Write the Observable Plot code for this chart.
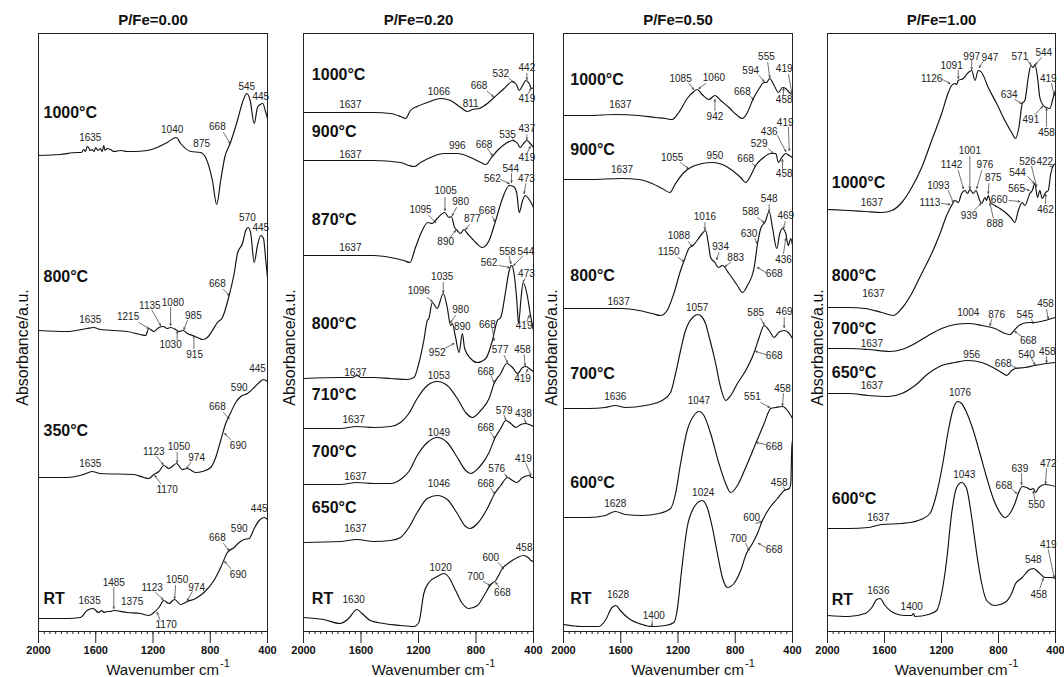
<!DOCTYPE html>
<html>
<head>
<meta charset="utf-8">
<script src="https://cdn.jsdelivr.net/npm/d3@7"></script>
<script src="https://cdn.jsdelivr.net/npm/@observablehq/plot@0.6"></script>
<style>
  html, body { margin: 0; padding: 0; background: #fff; }
  #wrap { position: relative; width: 1064px; height: 677px; overflow: hidden; background: #fff; }
  #wrap svg { position: absolute; top: 0; background: transparent !important; }
</style>
</head>
<body>
<div id="wrap"></div>
<script>
// ---------- axis ticks ----------
const majorTicks = [2000, 1600, 1200, 800, 400];
const minorTicks = d3.range(400, 2001, 40);
const titles = ["P/Fe=0.00", "P/Fe=0.20", "P/Fe=0.50", "P/Fe=1.00"];

// ---------- P/Fe = 0.00 spectra [wavenumber, absorbance (offset, a.u.)] ----------
const s000_1000 = [[2000,476],[1848,477],[1731,479],[1700,479],[1685,482],[1672,480],[1660,485],[1650,484],[1640,481],[1626,482],[1612,480],[1600,484],[1585,481],[1568,483],[1555,480],[1544,486],[1535,481],[1520,483],[1498,482],[1470,480],[1428,481],[1380,480],[1334,480],[1241,481],[1171,484],[1101,489],[1038,494],[1007,488],[937,480],[867,479],[832,474],[785,451],[755,427],[727,451],[699,474],[661,488],[610,511],[575,529],[545,538],[521,531],[493,508],[470,524],[451,527],[433,528],[412,519],[400,513]];
const s000_800 = [[2000,301],[1801,300],[1661,303],[1615,304],[1568,302],[1381,300],[1288,297],[1252,296],[1229,303],[1194,300],[1159,304],[1129,305],[1101,303],[1077,304],[1042,302],[1019,300],[989,301],[960,298],[925,296],[890,294],[855,292],[820,294],[785,301],[750,309],[715,314],[668,336],[633,358],[610,378],[575,388],[552,401],[535,404],[517,398],[493,369],[470,386],[447,396],[428,393],[412,371],[400,354]];
const s000_350 = [[2000,154],[1801,154],[1685,157],[1626,160],[1568,158],[1334,157],[1264,154],[1229,153],[1194,157],[1159,160],[1124,166],[1089,163],[1035,168],[996,162],[960,163],[902,159],[855,160],[797,164],[762,174],[727,191],[692,208],[657,219],[622,229],[587,235],[540,238],[493,244],[458,249],[428,252],[400,250]];
const s000_rt = [[2000,13],[1801,13],[1708,14],[1661,21],[1619,23],[1580,19],[1560,21],[1540,19],[1521,20],[1500,20],[1474,21],[1381,19],[1288,18],[1229,16],[1194,19],[1159,24],[1124,31],[1089,28],[1049,32],[1007,27],[960,30],[902,33],[844,39],[774,51],[727,64],[680,79],[633,84],[598,89],[563,92],[528,93],[493,103],[458,111],[423,114],[400,112]];
const t000 = [["1000°C",1965,519],["800°C",1965,355],["350°C",1965,201],["RT",1965,33]];
const l000 = [["1635",1638,494],["1040",1066,502],["875",860,488],["668",750,505],["545",545,545],["445",447,535],
["570",540,414],["445",447,404],["668",750,348],["1635",1638,312],["1215",1374,315],["1135",1222,326],["1080",1061,329],["985",918,316],["1030",1077,287],["915",909,277],
["1635",1638,168],["1123",1194,180],["1050",1019,185],["974",895,174],["1170",1101,142],["668",750,225],["690",605,186],["590",598,244],["445",470,263],
["1635",1643,31],["1485",1474,49],["1375",1346,30],["1123",1206,44],["1050",1031,52],["974",895,44],["1170",1108,7],["668",750,94],["690",605,57],["590",598,103],["445",458,123]];
const a000 = [[708,499,661,488],
[708,342,668,336],[1299,309,1229,303],[1206,321,1147,306],[1077,324,1077,306],[960,311,984,302],[1031,292,1031,300],[914,283,914,296],
[1175,175,1129,167],[1031,179,1031,169],[937,169,965,163],[1147,148,1187,156],[708,219,668,213],[657,192,699,198],
[1474,44,1474,23],[1182,39,1129,32],[1042,46,1049,33],[925,40,960,31],[1152,12,1171,19],[708,88,668,81],[657,63,699,70]];

// ---------- P/Fe = 0.20 ----------
const s020_1000 = [[2000,519],[1744,519],[1512,519],[1395,518],[1325,515],[1291,513],[1256,521],[1209,525],[1139,529],[1046,533],[977,531],[907,524],[860,520],[825,522],[779,523],[721,528],[674,534],[604,543],[546,550],[516,546],[500,541],[476,546],[453,551],[430,548],[414,543],[400,544]];
const s020_900 = [[2000,471],[1744,471],[1512,471],[1325,469],[1267,466],[1228,465],[1186,469],[1116,474],[1023,478],[930,478],[837,474],[767,469],[732,467],[697,473],[651,481],[593,488],[546,491],[511,488],[493,484],[470,488],[446,491],[423,488],[400,484]];
const s020_870 = [[2000,376],[1744,376],[1512,376],[1395,374],[1302,371],[1260,369],[1221,384],[1174,401],[1135,409],[1104,408],[1070,413],[1018,419],[988,414],[972,415],[949,404],[930,401],[907,398],[884,402],[860,398],[802,389],[756,384],[709,391],[663,411],[616,433],[569,446],[539,445],[516,438],[500,419],[476,431],[458,436],[430,432],[400,424]];
const s020_800 = [[2000,253],[1744,254],[1660,254],[1628,256],[1600,254],[1512,254],[1395,253],[1279,252],[1232,254],[1198,268],[1163,291],[1139,311],[1128,313],[1104,329],[1070,323],[1028,338],[1000,324],[977,306],[965,308],[942,294],[918,279],[895,298],[879,283],[837,273],[790,269],[732,273],[686,291],[651,311],[628,314],[593,341],[569,361],[553,366],[539,361],[516,331],[504,308],[488,331],[472,349],[446,338],[423,318],[400,301]];
const s020_710 = [[2000,203],[1744,203],[1628,205],[1512,204],[1395,205],[1325,209],[1267,218],[1209,233],[1139,246],[1070,250],[1000,246],[930,233],[872,219],[825,214],[767,221],[709,233],[674,248],[628,258],[586,268],[546,264],[511,258],[476,264],[453,265],[430,263],[400,260]];
const s020_700 = [[2000,147],[1744,147],[1628,149],[1512,148],[1395,148],[1325,152],[1267,160],[1209,176],[1139,189],[1070,194],[1000,189],[930,174],[872,161],[837,158],[779,164],[709,179],[670,193],[628,203],[593,211],[558,208],[523,204],[488,207],[453,208],[430,207],[400,205]];
const s020_650 = [[2000,89],[1744,90],[1628,92],[1512,90],[1395,91],[1325,94],[1267,104],[1209,119],[1139,133],[1070,136],[1000,132],[930,118],[872,105],[842,103],[790,108],[721,123],[670,138],[628,146],[581,154],[546,151],[516,149],[476,154],[430,156],[414,154],[400,154]];
const s020_rt = [[2000,14],[1860,12],[1744,8],[1686,13],[1628,22],[1593,18],[1535,11],[1442,8],[1325,6],[1232,5],[1198,9],[1163,38],[1128,49],[1070,55],[1023,58],[988,54],[942,41],[895,28],[849,23],[790,26],[744,36],[697,47],[663,51],[616,63],[569,69],[511,74],[470,76],[437,74],[418,71],[400,70]];
const t020 = [["1000°C",1942,557],["900°C",1942,500],["870°C",1942,412],["800°C",1942,308],["710°C",1942,237],["700°C",1942,180],["650°C",1942,124],["RT",1942,33]];
const l020 = [["1637",1674,527],["1066",1058,540],["811",837,528],["668",779,546],["532",628,558],["442",446,564],["419",446,533],
["1637",1674,477],["996",930,486],["668",744,487],["535",581,497],["437",446,503],["419",446,474],
["1637",1674,384],["1095",1186,422],["1005",1011,441],["980",907,430],["877",826,413],["890",1011,390],["668",722,421],["562",686,453],["544",558,463],["473",449,453],
["1637",1639,259],["1096",1198,341],["1035",1035,355],["980",907,322],["890",895,305],["952",1070,279],["668",721,307],["419",465,306],["562",709,369],["558",581,380],["544",453,380],["473",449,358],
["1637",1651,212],["1053",1058,256],["668",732,260],["577",632,282],["458",476,282],["419",476,253],
["1637",1639,155],["1049",1058,199],["668",732,204],["579",604,221],["438",470,218],
["1637",1639,103],["1046",1058,148],["668",732,148],["576",656,163],["419",470,173],
["1630",1651,32],["1020",1046,64],["700",802,55],["668",616,39],["600",697,74],["458",465,84]];
const a020 = [[721,540,679,535],[570,553,535,549],[446,558,446,552],[437,538,418,543],
[721,483,686,476],[546,493,530,490],[446,497,446,492],[442,479,423,485],
[1128,416,1081,409],[1016,434,1016,421],[935,424,965,416],[845,407,872,402],[981,394,942,401],[686,415,670,410],[628,452,569,448],[553,458,553,449],[453,448,465,438],
[1139,334,1104,330],[1028,349,1028,339],[942,316,977,309],[1018,283,953,288],[686,303,674,291],[446,310,430,316],[639,366,569,364],[569,375,558,368],[476,375,539,366],[458,353,472,350],
[697,256,674,249],[604,276,581,269],[465,277,458,266],[453,258,442,262],
[697,199,670,193],[604,216,593,212],[465,213,453,209],
[697,143,670,138],[604,158,586,155],[453,168,418,156],
[749,50,702,46],[639,44,663,49],[646,69,609,63]];

// ---------- P/Fe = 0.50 ----------
const s050_1000 = [[2000,516],[1825,516],[1638,517],[1474,516],[1358,514],[1288,513],[1241,512],[1194,519],[1136,533],[1089,540],[1066,542],[1031,537],[984,532],[942,536],[902,531],[844,524],[785,516],[750,513],[715,519],[680,531],[633,543],[598,549],[582,549],[559,553],[528,546],[498,539],[470,544],[447,543],[423,539],[400,537]];
const s050_900 = [[2000,452],[1825,452],[1591,453],[1474,452],[1381,448],[1311,443],[1257,439],[1217,448],[1159,459],[1112,464],[1031,468],[960,469],[890,467],[820,461],[762,454],[727,449],[692,456],[657,466],[610,473],[552,478],[517,478],[498,469],[475,474],[447,478],[423,476],[400,474]];
const s050_800 = [[2000,323],[1825,323],[1591,323],[1474,321],[1381,318],[1323,316],[1276,321],[1229,338],[1182,361],[1152,373],[1124,383],[1096,386],[1066,391],[1031,398],[1007,401],[989,389],[972,374],[942,369],[918,364],[890,366],[844,358],[785,346],[750,339],[715,346],[668,364],[644,388],[622,403],[590,410],[563,420],[540,404],[510,383],[489,398],[470,403],[447,398],[430,386],[412,393],[400,386]];
const s050_700 = [[2000,223],[1825,223],[1708,224],[1638,226],[1568,224],[1428,226],[1311,231],[1252,239],[1217,258],[1182,281],[1150,300],[1120,310],[1090,315],[1062,317],[1035,315],[1005,307],[985,296],[972,289],[937,268],[902,244],[867,231],[832,236],[785,248],[727,261],[668,279],[633,294],[598,306],[563,301],[528,294],[498,299],[458,301],[423,298],[400,293]];
const s050_600 = [[2000,114],[1825,114],[1708,116],[1638,120],[1568,117],[1451,116],[1334,118],[1252,123],[1217,138],[1182,168],[1136,201],[1089,216],[1054,220],[1019,216],[972,198],[914,168],[867,148],[832,139],[785,146],[727,164],[657,188],[598,208],[552,223],[517,224],[470,225],[435,221],[412,216],[400,213]];
const s050_rt = [[2000,7],[1872,5],[1755,5],[1708,11],[1661,24],[1633,26],[1603,21],[1544,13],[1451,7],[1381,5],[1288,6],[1229,9],[1206,21],[1175,61],[1136,104],[1089,124],[1031,131],[996,124],[960,104],[925,78],[890,54],[855,44],[809,48],[762,61],[722,78],[680,88],[645,98],[610,111],[563,123],[505,133],[458,141],[423,143],[412,148],[405,184],[400,191]];
const t050 = [["1000°C",1953,552],["900°C",1953,482],["800°C",1953,356],["700°C",1953,258],["600°C",1953,149],["RT",1953,33]];
const l050 = [["1637",1603,527],["1085",1182,553],["1060",949,554],["942",942,515],["668",750,540],["594",692,561],["555",582,575],["419",458,563],["458",458,532],
["1637",1591,462],["1055",1241,474],["950",942,476],["668",727,473],["529",633,488],["436",563,500],["419",451,509],["458",458,458],
["1637",1615,330],["1150",1264,380],["1088",1194,396],["1016",1012,415],["934",902,385],["883",797,374],["630",704,398],["588",692,420],["548",563,433],["469",447,416],["436",463,372],["668",528,358],
["1636",1638,235],["1057",1066,324],["585",657,319],["469",458,320],["668",528,276],
["1628",1638,128],["1047",1054,231],["551",680,235],["458",470,243],["668",528,185],
["1628",1619,37],["1400",1369,16],["1024",1024,139],["700",778,93],["668",528,82],["600",685,114],["458",493,149]];
const a050 = [[1124,548,1089,542],[1007,548,1054,543],[942,521,942,532],[708,537,673,532],[633,556,598,550],[573,569,559,554],[428,557,405,539],[463,537,463,543],
[1182,469,1129,463],[680,468,657,465],[568,483,535,478],[505,496,447,480],[428,504,423,481],[470,463,470,472],
[1199,374,1159,370],[1129,390,1101,385],[1012,409,1012,402],[914,379,930,372],[832,369,872,365],[662,393,647,388],[645,414,598,409],[563,427,563,420],[451,410,463,403],[463,378,447,393],[587,359,645,364],
[622,313,598,307],[458,314,458,304],[587,277,657,280],
[622,229,559,224],[463,238,470,226],[587,187,652,189],
[1381,11,1381,6],[727,88,704,81],[587,84,638,88],[657,108,617,110],[463,144,447,141]];

// ---------- P/Fe = 1.00 ----------
const s100_1000 = [[2000,422],[1853,421],[1736,420],[1619,419],[1549,421],[1479,429],[1409,444],[1339,464],[1269,491],[1199,518],[1152,539],[1129,546],[1105,548],[1094,547],[1082,551],[1047,553],[1012,559],[988,561],[965,551],[942,561],[918,559],[872,544],[813,528],[755,511],[708,499],[680,493],[657,504],[633,528],[615,531],[591,554],[573,566],[556,564],[545,567],[526,554],[510,534],[486,526],[463,524],[440,523],[416,534],[400,541]];
const s100_800 = [[2000,324],[1853,324],[1736,323],[1619,319],[1537,316],[1479,323],[1409,338],[1339,358],[1269,378],[1210,398],[1164,416],[1129,426],[1105,431],[1082,429],[1059,438],[1035,441],[1017,438],[1001,442],[977,438],[958,441],[937,433],[918,428],[895,434],[883,431],[872,436],[855,429],[825,426],[790,423],[743,418],[708,413],[685,409],[661,421],[633,429],[615,426],[580,438],[563,441],[545,448],[526,434],[510,441],[493,433],[470,439],[451,441],[433,458],[416,466],[400,468]];
const s100_700 = [[2000,283],[1853,283],[1713,282],[1561,280],[1479,282],[1386,288],[1292,296],[1199,303],[1105,307],[1012,308],[918,306],[825,303],[755,298],[720,297],[690,301],[657,306],[591,309],[545,309],[475,311],[428,313],[400,314]];
const s100_650 = [[2000,238],[1853,238],[1713,236],[1573,235],[1479,238],[1386,246],[1292,258],[1199,266],[1105,269],[1012,271],[918,269],[825,263],[767,258],[743,256],[708,261],[680,263],[615,264],[545,266],[463,268],[400,269]];
const s100_600 = [[2000,103],[1853,103],[1713,104],[1619,107],[1479,108],[1362,111],[1281,118],[1234,138],[1187,171],[1152,201],[1117,223],[1087,230],[1059,228],[1024,219],[977,201],[930,178],[883,154],[837,133],[790,119],[755,114],[720,118],[685,128],[661,138],[633,145],[603,144],[573,142],[556,143],[540,139],[517,144],[475,147],[400,145]];
const s100_rt = [[2000,16],[1853,15],[1736,18],[1689,24],[1654,32],[1631,33],[1596,26],[1526,18],[1456,16],[1409,16],[1397,18],[1386,15],[1292,17],[1234,21],[1199,38],[1164,71],[1129,118],[1094,144],[1059,149],[1024,143],[988,114],[953,78],[918,48],[883,31],[825,26],[755,29],[708,38],[680,48],[633,54],[591,61],[556,63],[510,58],[475,54],[428,54],[400,53]];
const t100 = [["1000°C",1970,449],["800°C",1970,356],["700°C",1970,303],["650°C",1970,259],["600°C",1970,133],["RT",1970,32]];
const l100 = [["1637",1689,429],["1126",1269,553],["1091",1129,566],["997",988,575],["947",860,574],["571",650,575],["544",482,579],["634",725,537],["419",451,553],["491",573,512],["458",463,499],
["1637",1678,338],["1001",1001,481],["1142",1129,467],["976",895,467],["875",837,454],["1093",1222,446],["1113",1281,429],["939",1007,416],["888",825,408],["526",596,470],["422",475,470],["544",666,459],["565",673,443],["660",795,432],["462",470,422],
["1637",1689,288],["1004",1012,319],["876",813,317],["545",615,317],["458",470,328],["668",591,291],
["1637",1689,246],["956",988,277],["668",767,268],["540",603,277],["458",458,280],
["1637",1643,114],["1076",1070,239],["668",762,146],["639",650,163],["550",533,127],["472",451,168],
["1636",1643,41],["1400",1409,25],["1043",1040,157],["548",556,72],["419",451,87],["458",517,37]];
const a100 = [[1194,552,1140,548],[1082,561,1082,553],[988,571,988,562],[907,570,935,564],[603,572,573,567],[498,574,540,567],[685,532,638,528],[428,548,409,536],[545,517,491,525],[463,505,463,523],
[1001,475,1001,443],[1082,461,1047,443],[918,461,953,443],[867,448,872,438],[1152,441,1117,429],[1199,428,1140,427],[965,422,923,428],[837,414,860,428],[568,465,533,445],[440,465,416,465],[595,455,550,448],[619,443,584,441],[725,431,650,430],[470,428,468,437],
[848,312,860,306],[568,312,556,308],[463,322,451,313],[638,295,685,300],
[708,266,673,263],[568,273,545,267],[463,275,463,269],
[708,143,673,138],[638,158,638,147],[545,132,556,140],[463,163,470,148],
[451,82,409,54],[510,43,486,53]];

// ---------- build ----------
const panels = [
  {left: 0,   width: 284, ml: 38, mr: 17, yl: -16, spectra: [s000_1000, s000_800, s000_350, s000_rt], temps: t000, labels: l000, arrows: a000},
  {left: 270, width: 280, ml: 33, mr: 17, yl: -14, spectra: [s020_1000, s020_900, s020_870, s020_800, s020_710, s020_700, s020_650, s020_rt], temps: t020, labels: l020, arrows: a020},
  {left: 536, width: 273, ml: 27, mr: 17, yl: -12, spectra: [s050_1000, s050_900, s050_800, s050_700, s050_600, s050_rt], temps: t050, labels: l050, arrows: a050},
  {left: 796, width: 268, ml: 31, mr: 9, yl: -10, spectra: [s100_1000, s100_800, s100_700, s100_650, s100_600, s100_rt], temps: t100, labels: l100, arrows: a100}
];

const wrap = document.getElementById("wrap");
panels.forEach((p, i) => {
  const data = p.spectra.flatMap((s, k) => s.map(([x, y]) => ({x, y, k})));
  const svg = Plot.plot({
    width: p.width, height: 677,
    marginTop: 33, marginBottom: 46, marginLeft: p.ml, marginRight: p.mr,
    x: {domain: [2000, 400]},
    y: {domain: [0, 598], axis: null},
    style: {fontFamily: "Arial, 'Liberation Sans', sans-serif", background: "transparent", color: "#111", overflow: "visible"},
    marks: [
      Plot.axisX({ticks: minorTicks, tickSize: 3, tickFormat: () => "", label: null, stroke: "#222"}),
      Plot.axisX({ticks: majorTicks, tickSize: 12, tickPadding: 3, tickFormat: d => String(d), label: null,
                  fontSize: 11, fontWeight: "bold", stroke: "#222", fill: "#111"}),
      Plot.line(data, {x: "x", y: "y", z: "k", stroke: "#111", strokeWidth: 1.15, curve: "monotone-x"}),
      Plot.arrow(p.arrows, {x1: d => d[0], y1: d => d[1], x2: d => d[2], y2: d => d[3],
                 stroke: "#333", strokeWidth: 0.7, headLength: 4, headAngle: 50}),
      Plot.text(p.labels, {x: d => d[1], y: d => d[2], text: d => d[0], fontSize: 10, fill: "#222",
                textAnchor: "middle", lineAnchor: "middle"}),
      Plot.text(p.temps, {x: d => d[1], y: d => d[2], text: d => d[0], fontSize: 16, fontWeight: "bold",
                fill: "#111", textAnchor: "start", lineAnchor: "middle"}),
      Plot.frame({stroke: "#222", strokeWidth: 1}),
      Plot.text([titles[i]], {frameAnchor: "top", dy: -13, fontSize: 15, fontWeight: "bold", fill: "#111",
                textAnchor: "middle", lineAnchor: "middle"}),
      Plot.text(["Absorbance/a.u."], {frameAnchor: "left", dx: p.yl, dy: 15, rotate: -90, fontSize: 16,
                fill: "#111", textAnchor: "middle", lineAnchor: "middle"}),
      Plot.text(["Wavenumber cm"], {frameAnchor: "bottom", dx: 66, dy: 39, fontSize: 15, fill: "#111",
                textAnchor: "end", lineAnchor: "middle"}),
      Plot.text(["-1"], {frameAnchor: "bottom", dx: 67, dy: 32, fontSize: 11, fill: "#111",
                textAnchor: "start", lineAnchor: "middle"})
    ]
  });
  svg.style.left = p.left + "px";
  wrap.appendChild(svg);
});
</script>
</body>
</html>
